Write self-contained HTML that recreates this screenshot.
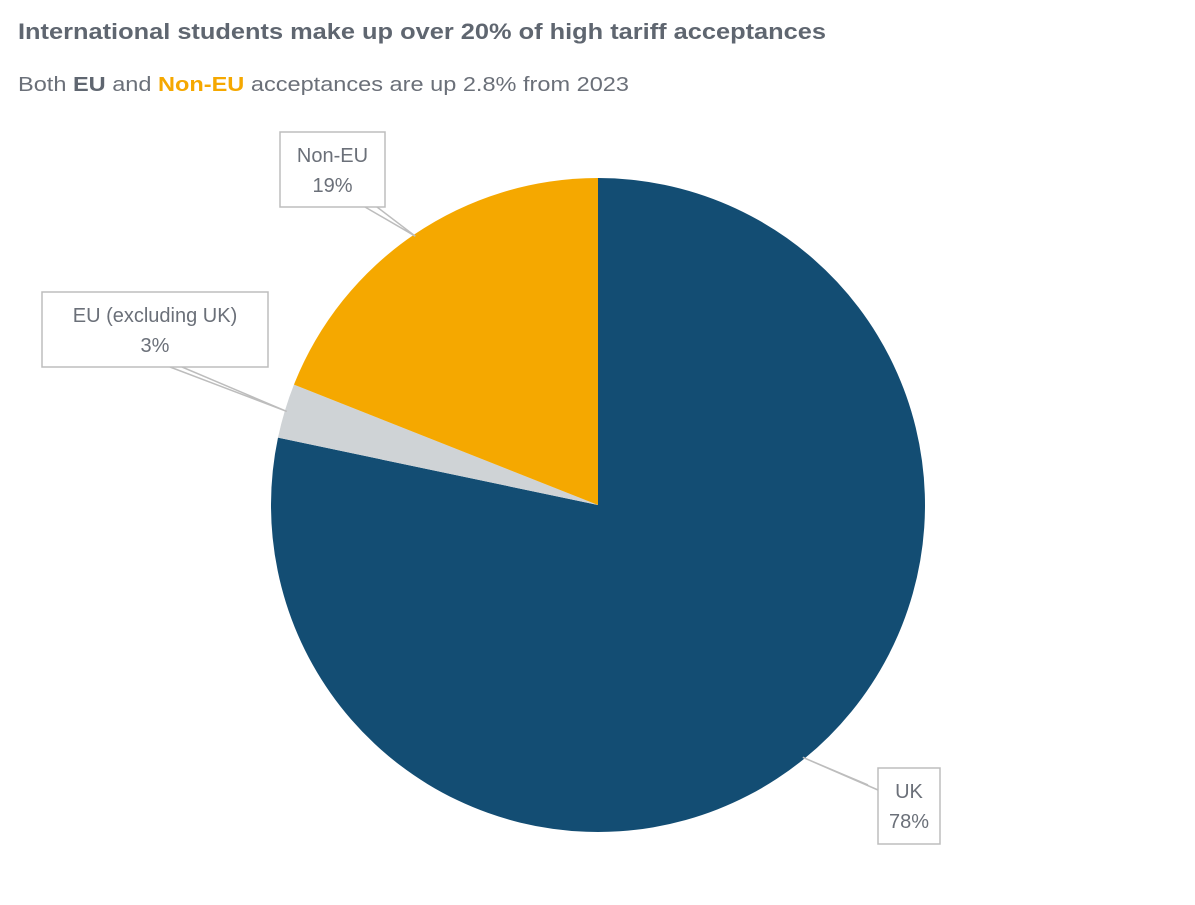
<!DOCTYPE html>
<html><head><meta charset="utf-8"><style>
html,body{margin:0;padding:0;background:#fff;}
svg{display:block;font-family:"Liberation Sans",sans-serif;}
</style></head><body>
<svg width="1195" height="905" viewBox="0 0 1195 905">
<text x="18" y="39" font-size="22" font-weight="bold" fill="#5f6670" textLength="808" lengthAdjust="spacingAndGlyphs">International students make up over 20% of high tariff acceptances</text>
<text x="18" y="91" font-size="20" fill="#6b7079" textLength="611" lengthAdjust="spacingAndGlyphs">Both <tspan font-weight="bold" fill="#5f6670">EU</tspan> and <tspan font-weight="bold" fill="#f5a800">Non-EU</tspan> acceptances are up 2.8% from 2023</text>
<g id="pie"></g>
<g id="labels"></g>
</svg>
<script>
const categories = ["UK", "EU (excluding UK)", "Non-EU"];
const values = [78.3, 2.7, 19.0];
const printed = ["78%", "3%", "19%"];
const colors = ["#134d73", "#cfd3d6", "#f5a800"];
const cx = 598, cy = 505, r = 327;
const NS = "http://www.w3.org/2000/svg";
const pie = document.getElementById('pie');
const labels = document.getElementById('labels');
const total = values.reduce((a,b)=>a+b,0);
function pt(a, rr){ return [cx + rr*Math.sin(a), cy - rr*Math.cos(a)]; }
// label box layout (positions only)
const boxes = [
  {x:878,y:768,w:62,h:76, ax:868, ay:785},
  {x:42,y:292,w:226,h:75, ax:170, ay:367},
  {x:280,y:132,w:105,h:75, ax:365, ay:207}
];
let acc = 0;
values.forEach((v,i)=>{
  const a0 = acc/total*2*Math.PI; acc += v; const a1 = acc/total*2*Math.PI;
  const [x0,y0]=pt(a0,r), [x1,y1]=pt(a1,r);
  const large = (a1-a0)>Math.PI?1:0;
  const p = document.createElementNS(NS,'path');
  p.setAttribute('d',`M${cx},${cy} L${x0},${y0} A${r},${r} 0 ${large} 1 ${x1},${y1} Z`);
  p.setAttribute('fill',colors[i]);
  
  
  pie.appendChild(p);
  const mid=(a0+a1)/2; const [mx,my]=pt(mid,r-2);
  const b=boxes[i];
  const l=document.createElementNS(NS,'path');
  const sx = i===0? b.x : b.ax-14, sy = i===0? b.y+4 : b.y+b.h;
  l.setAttribute('d',`M${b.ax},${b.ay} L${mx},${my} L${i===0?b.x:b.ax+12},${i===0?b.y+22:b.y+b.h}`);
  l.setAttribute('fill','#fff'); l.setAttribute('stroke','#bdbdbd'); l.setAttribute('stroke-width','1.5');
  
  
  const rect=document.createElementNS(NS,'rect');
  rect.setAttribute('x',b.x);rect.setAttribute('y',b.y);rect.setAttribute('width',b.w);rect.setAttribute('height',b.h);
  rect.setAttribute('fill','#fff');rect.setAttribute('stroke','#bdbdbd');rect.setAttribute('stroke-width','1.5');
  
  
  labels.appendChild(l); labels.appendChild(rect);
  [categories[i], printed[i]].forEach((t,k)=>{
    const tx=document.createElementNS(NS,'text');
    tx.setAttribute('x',b.x+b.w/2);tx.setAttribute('y',b.y+30+k*30);
    tx.setAttribute('text-anchor','middle');tx.setAttribute('font-size','20');tx.setAttribute('fill','#6b7079');
    tx.textContent=t;
    
    
    labels.appendChild(tx);
  });
  // cover leader joint with box edge
});
</script>
</body></html>
